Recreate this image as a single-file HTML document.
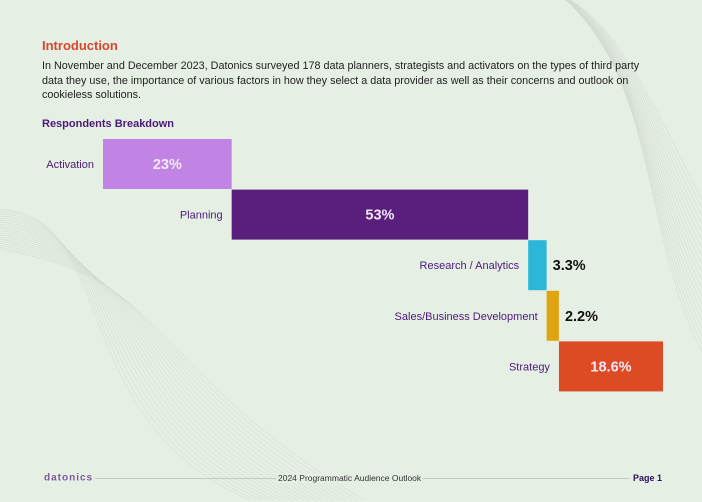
<!DOCTYPE html>
<html><head><meta charset="utf-8"><style>
body{margin:0;width:702px;height:502px;background:#e6efe4;font-family:"Liberation Sans",sans-serif;position:relative;overflow:hidden}
.t{position:absolute}
</style></head><body>
<svg class="t" style="left:0;top:0" width="702" height="502">
<g fill="none" stroke="#d2dad1" stroke-width="0.5" id="w"></g>
</svg>
<div class="t" style="left:42px;top:38px;font-size:13px;font-weight:bold;color:#d9472b">Introduction</div>
<div class="t" style="left:42px;top:59px;width:612px;font-size:10.8px;line-height:14.5px;color:#222">In November and December 2023, Datonics surveyed 178 data planners, strategists and activators on the types of third party data they use, the importance of various factors in how they select a data provider as well as their concerns and outlook on cookieless solutions.</div>
<div class="t" style="left:42px;top:118px;font-size:11px;font-weight:bold;color:#4b1a78">Respondents Breakdown</div>
<svg class="t" style="left:0;top:0" width="702" height="502" id="chart"></svg>
<div class="t" style="left:42px;top:478px;width:620px;height:1px;background:#c5c9c3"></div>
<div class="t" style="left:42px;top:478px;padding:0 2px;background:#e6efe4;font-size:10px;font-weight:bold;color:#7a5a9a;letter-spacing:1px;transform:translateY(-50%)">datonics</div>
<div class="t" style="left:276px;top:478px;padding:0 2px;background:#e6efe4;font-size:8.5px;color:#333;transform:translateY(-50%)">2024 Programmatic Audience Outlook</div>
<div class="t" style="left:630px;top:478px;padding-left:3px;background:#e6efe4;font-size:9px;font-weight:bold;color:#2a0f55;transform:translateY(-50%)">Page 1</div>
<script>
const categories=["Activation","Planning","Research / Analytics","Sales/Business Development","Strategy"];
const values=[23,53,3.3,2.2,18.6];
const labels=["23%","53%","3.3%","2.2%","18.6%"];
const colors=["#c184e4","#5a1e7c","#2bb8d8","#e0a412","#dd4b25"];
const ns="http://www.w3.org/2000/svg";
const svg=document.getElementById("chart");
const x0=103,scale=560/100.1,y0=139,rowH=50.6,barH=50;
const xs=v=>x0+v*scale;
let cum=0;
values.forEach((v,i)=>{
 const xa=xs(cum),xb=xs(cum+v),y=y0+i*rowH;cum+=v;
 const r=document.createElementNS(ns,"rect");
 r.setAttribute("x",xa);r.setAttribute("y",y);r.setAttribute("width",xb-xa);r.setAttribute("height",barH);r.setAttribute("fill",colors[i]);
 
 
 svg.appendChild(r);
 const c=document.createElementNS(ns,"text");
 c.setAttribute("x",xa-9);c.setAttribute("y",y+barH/2+4);c.setAttribute("text-anchor","end");c.setAttribute("font-size","11");c.setAttribute("fill","#4b1a78");
 c.textContent=categories[i];
 
 
 svg.appendChild(c);
 const inside=(xb-xa)>60;
 const t=document.createElementNS(ns,"text");
 t.setAttribute("x",inside?(xa+xb)/2:xb+6);t.setAttribute("y",y+barH/2+5);t.setAttribute("text-anchor",inside?"middle":"start");
 t.setAttribute("font-size","14.5");t.setAttribute("font-weight","bold");t.setAttribute("fill",inside?"#f3e8f8":"#111");
 t.textContent=labels[i];
 
 
 svg.appendChild(t);
});
const g=document.getElementById("w");
for(let k=0;k<20;k++){
 const p=document.createElementNS(ns,"path");
 p.setAttribute("d",`M${-10} ${210+k*2} C ${120+k*3} ${200+k*4}, ${60+k*4} ${420-k*3}, ${250+k*6} ${500}`);
 g.appendChild(p);
 const q=document.createElementNS(ns,"path");
 q.setAttribute("d",`M${560} ${-5} C ${620+k*2} ${20+k*3}, ${660-k} ${120+k*6}, ${702} ${200+k*8}`);
 g.appendChild(q);
}
</script>
</body></html>
